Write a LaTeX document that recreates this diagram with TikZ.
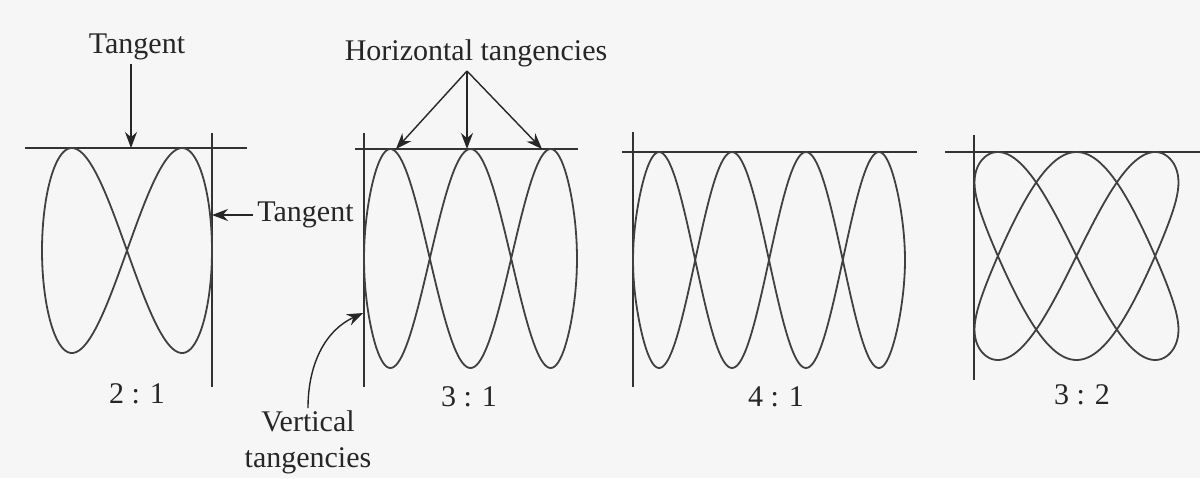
\documentclass[tikz,border=0pt]{standalone}
\usepackage{fontspec}
\setmainfont{Liberation Serif}
\usetikzlibrary{arrows.meta,positioning}

\begin{document}
\begin{tikzpicture}[x=0.5pt, y=-0.5pt,
    lbl/.style={font=\fontsize{15}{18}\selectfont, text=black!85, inner sep=0pt},
    tline/.style={black!80, line width=0.9pt},
    curve/.style={black!75, line width=0.9pt},
    arr/.style={-{Stealth[length=8pt, width=6pt]}, black!85, line width=0.7pt}
]
\fill[gray!7] (0,0) rectangle (1200,478);
\useasboundingbox (0,0) rectangle (1200,478);

% 2 : 1
\draw[tline] (25,148) -- (247,148);
\draw[tline] (212,133) -- (212,387);
\draw[curve] plot[variable=\t, domain=0:360, samples=241]
    ({127+85*asin(0.8*sin(\t))/asin(0.8)}, {250.5-102.5*sin(2*\t)});

% 3 : 1
\draw[tline] (355,149) -- (578,149);
\draw[tline] (364,133) -- (364,387);
\draw[curve] plot[variable=\t, domain=0:360, samples=241]
    ({470.5+106.5*asin(0.97*cos(\t))/asin(0.97)}, {258.5-109.5*sin(3*\t)});

% 4 : 1
\draw[tline] (622,152) -- (917,152);
\draw[tline] (633,132) -- (633,387);
\draw[curve] plot[variable=\t, domain=0:360, samples=321]
    ({769+136*asin(0.99*sin(\t))/asin(0.99)}, {260-108*sin(4*\t)});

% 3 : 2
\draw[tline] (945,152) -- (1200,152);
\draw[tline] (974,135) -- (974,380);
\draw[curve] plot[variable=\t, domain=0:360, samples=321]
    ({1076.5+102*asin(0.95*sin(2*\t))/asin(0.95)}, {256-104*sin(3*\t)});

\node[lbl, anchor=base] (tan1) at (137,53) {Tangent};
\coordinate (t21h) at (131,148);
\draw[arr, shorten <=2pt] (tan1.south -| t21h) -- (t21h);

\node[lbl, anchor=west] (tan2) at (257,215) {Tangent};
\coordinate (t21v) at (212,215);
\draw[arr, shorten <=2pt] (tan2.west) -- (t21v);

\node[lbl, anchor=base] (htan) at (476,60) {Horizontal tangencies};
\coordinate (hapex) at (467,71);
\coordinate (h1) at (396,149);
\coordinate (h2) at (467,149);
\coordinate (h3) at (542,149);
\foreach \p in {h1,h2,h3}
    \draw[arr] (hapex) -- (\p);

\node[lbl, align=center, anchor=north] (vtan) at (308,410) {Vertical\\tangencies};
\coordinate (v31) at (363,313);
\draw[arr, shorten <=1pt] (vtan.north) to[out=90, in=205] (v31);

\node[lbl] (r21) at (137,394) {2 : 1};
\node[lbl] (r31) at (469,397) {3 : 1};
\node[lbl] (r41) at (776,397) {4 : 1};
\node[lbl] (r32) at (1082,395) {3 : 2};
\end{tikzpicture}
\end{document}
